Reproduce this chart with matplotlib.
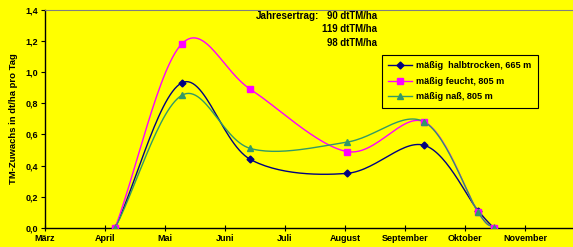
#!/usr/bin/env python3
"""TM-Zuwachs chart: smoothed growth curves for three sites."""
import numpy as np
import matplotlib
matplotlib.use("Agg")
import matplotlib.pyplot as plt

# months since 1 March (0 = März, 1 = April, ...)
month_labels = ["März", "April", "Mai", "Juni", "Juli", "August",
                "September", "Oktober", "November"]
dates = [1.17, 2.28, 3.42, 5.03, 6.32, 7.22, 7.48]

halbtrocken = [0.0, 0.93, 0.44, 0.35, 0.53, 0.11, 0.0]
feucht = [0.0, 1.18, 0.89, 0.49, 0.68, 0.10, 0.0]
nass = [0.0, 0.85, 0.51, 0.55, 0.68, 0.10, 0.0]

series_names = ["mäßig  halbtrocken, 665 m", "mäßig feucht, 805 m", "mäßig naß, 805 m"]
ertrag = ["90 dtTM/ha", "119 dtTM/ha", "98 dtTM/ha"]

YELLOW = "#FFFF00"


def smooth(xs, ys, n=30):
    """Catmull-Rom style smoothing, similar to a spreadsheet 'smoothed line'."""
    xs = np.asarray(xs, float)
    ys = np.asarray(ys, float)
    px = np.concatenate([[2 * xs[0] - xs[1]], xs, [2 * xs[-1] - xs[-2]]])
    py = np.concatenate([[2 * ys[0] - ys[1]], ys, [2 * ys[-1] - ys[-2]]])
    out_x, out_y = [], []
    for i in range(1, len(px) - 2):
        p0, p1, p2, p3 = (np.array([px[j], py[j]]) for j in range(i - 1, i + 3))
        c1 = p1 + (p2 - p0) / 6
        c2 = p2 - (p3 - p1) / 6
        t = np.linspace(0, 1, n)[:, None]
        b = ((1 - t) ** 3) * p1 + 3 * ((1 - t) ** 2) * t * c1 + 3 * (1 - t) * t ** 2 * c2 + t ** 3 * p2
        out_x.extend(b[:, 0])
        out_y.extend(b[:, 1])
    return np.array(out_x), np.array(out_y)


plt.rcParams["font.family"] = ["Liberation Sans", "DejaVu Sans"]
plt.rcParams["font.weight"] = "bold"

fig = plt.figure(figsize=(5.73, 2.47), dpi=100, facecolor=YELLOW)
ax = fig.add_axes([45 / 573, 1 - 228 / 247, 1 - 45 / 573, (228 - 9.5) / 247])
ax.set_facecolor(YELLOW)

styles = [
    (halbtrocken, "#000080", "D", 3.5),
    (feucht, "#FF00FF", "s", 4),
    (nass, "#339966", "^", 4.5),
]
handles = []
for (vals, col, mk, ms), name in zip(styles, series_names):
    sx, sy = smooth(dates, vals)
    ax.plot(sx, sy, color=col, lw=1.0, zorder=2)
    ax.plot(dates, vals, ls="none", marker=mk, ms=ms, color=col, zorder=3)
    (h,) = ax.plot([], [], color=col, lw=1.0, marker=mk, ms=ms)
    handles.append(h)

ax.set_xlim(0, 8.8)
ax.set_ylim(0, 1.4)
ax.set_xticks(range(len(month_labels)))
ax.set_xticklabels(month_labels)
ax.set_yticks(np.arange(0, 1.41, 0.2))
ax.set_yticklabels([f"{v:.1f}".replace(".", ",") for v in np.arange(0, 1.41, 0.2)])
ax.tick_params(axis="both", labelsize=6.5, width=0.8, length=3, pad=2)
ax.tick_params(axis="x", direction="inout", length=4)
ax.tick_params(axis="y", direction="out")

for side in ("left", "bottom"):
    ax.spines[side].set_linewidth(1.0)
ax.spines["top"].set_color("#808080")
ax.spines["top"].set_linewidth(0.8)
ax.spines["right"].set_visible(False)

ax.set_ylabel("TM-Zuwachs in dt/ha pro Tag", fontsize=6.8, fontweight="bold", labelpad=5)

ax.text(319 / 573, 1 - 16 / 247, "Jahresertrag:", transform=fig.transFigure,
        ha="right", va="center", fontsize=7.1, fontweight="bold")
for i, t in enumerate(ertrag):
    ax.text(377 / 573, 1 - (16 + 13.5 * i) / 247, t, transform=fig.transFigure,
            ha="right", va="center", fontsize=6.9, fontweight="bold")

leg = ax.legend(handles, series_names, loc="upper left",
                bbox_to_anchor=(382 / 573, 1 - 55 / 247), bbox_transform=fig.transFigure,
                fontsize=6.6, frameon=True, fancybox=False, facecolor=YELLOW,
                edgecolor="black", framealpha=1, handlelength=2.6,
                borderpad=0.7, labelspacing=0.7, handletextpad=0.4, borderaxespad=0)
leg.get_frame().set_linewidth(0.8)
for txt in leg.get_texts():
    txt.set_fontweight("bold")

fig.savefig("out.png", dpi=100, facecolor=YELLOW)
